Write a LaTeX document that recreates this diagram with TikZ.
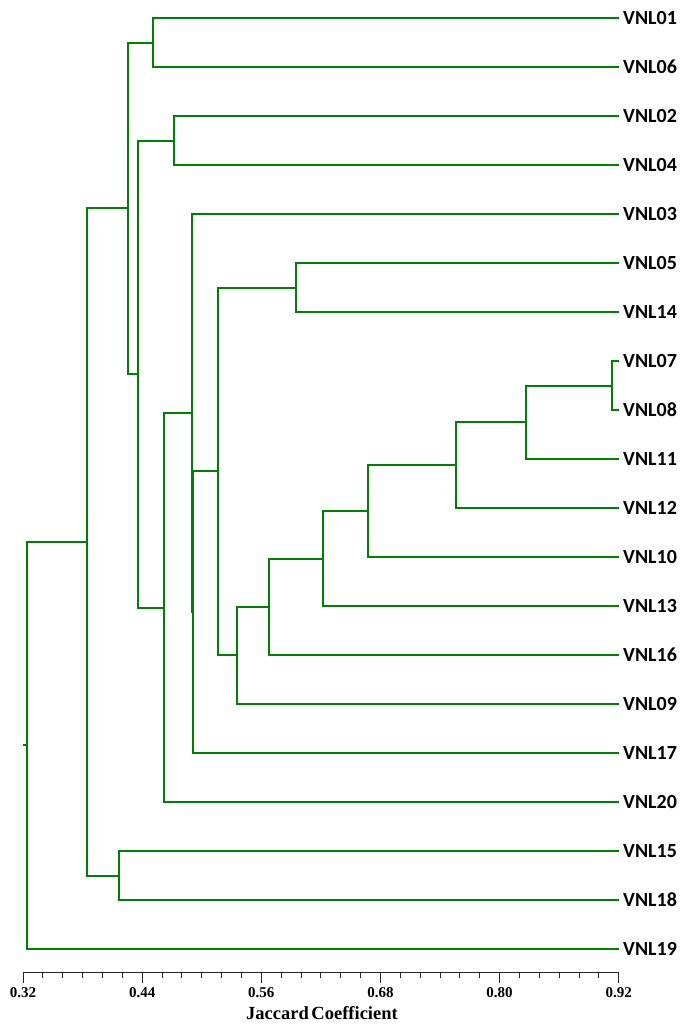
\documentclass[tikz,border=0pt]{standalone}
\usepackage{fontspec}
\setmainfont{Liberation Serif}
\newfontfamily\leaffont{Carlito}
\usetikzlibrary{calc}
\begin{document}
\begin{tikzpicture}[x=1pt,y=-1pt,
 br/.style={draw=green!50!black,line width=2pt},
 leaf/.style={anchor=west,inner xsep=4pt,inner ysep=0pt,font=\leaffont\bfseries\fontsize{20}{20}\selectfont},
 tick/.style={draw=black!85,line width=1pt},
 num/.style={inner sep=0pt,font=\bfseries\fontsize{15}{15}\selectfont}]
 \useasboundingbox (0,0) rectangle (683,1029);
 % leaves, top to bottom
 \foreach \n [count=\i from 0] in {01,06,02,04,03,05,14,07,08,11,12,10,13,16,09,17,20,15,18,19}{\node[leaf] (VNL\n) at (619,18+49*\i) {VNL\n};}
 % joins: name/level/upper/lower
 \foreach \m/\c/\u/\v in {a/152.7/VNL01/VNL06,b/174.3/VNL02/VNL04,c/295.7/VNL05/VNL14,d/611.7/VNL07/VNL08,e/526/d/VNL11,f/455.7/e/VNL12,g/368.3/f/VNL10,h/323/g/VNL13,i/269.3/h/VNL16,j/237.3/i/VNL09,k/218/c/j,l/193.3/k/VNL17,m/192/VNL03/l,n/164.3/m/VNL20,o/138.3/b/n,p/128/a/o,q/119/VNL15/VNL18,r/87/p/q,s/27.3/r/VNL19}{
  \path let \p1=($(\u)!.5!(\v)$) in (\c pt,\y1) coordinate (\m);
  \draw[br] (\u) -| (\m) |- (\v);}
 \coordinate (root) at ($(s)+(-4.6,0)$);
 \draw[br] (s) -- (root);
 % axis
 \coordinate (x0) at (23,972.3); \coordinate (x1) at (618.7,972.3);
 \draw[tick] (x0) -- (x1);
 \foreach \t in {0,...,30}{\draw[tick] ($(x0)+(19.857*\t,0)$) -- ++(0,5.7);}
 \foreach \t/\lab in {0/0.32,6/0.44,12/0.56,18/0.68,24/0.80,30/0.92}{
  \draw[tick] ($(x0)+(19.857*\t,0)$) -- ++(0,11);
  \node[num] (n\t) at ($(x0)+(19.857*\t,20.5)$) {\lab};}
 \node[num,font=\bfseries\fontsize{18.5}{18.5}\selectfont] (title) at (322,1013.5) {Jaccard\hspace{-2pt} Coefficient};
\end{tikzpicture}
\end{document}
